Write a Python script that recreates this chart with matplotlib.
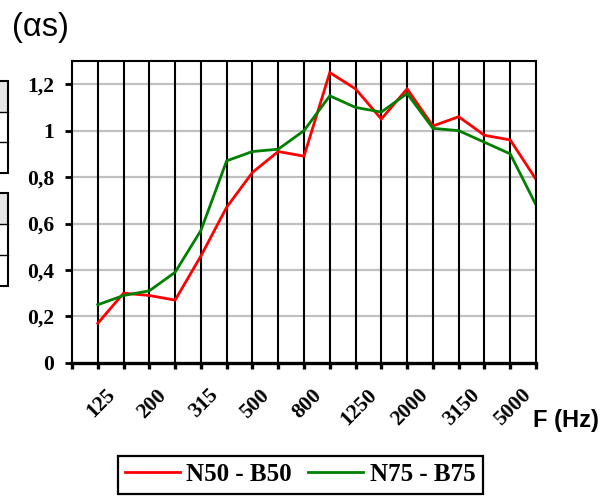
import matplotlib.pyplot as plt
from matplotlib.patches import Rectangle
from matplotlib.lines import Line2D
from matplotlib.ticker import FuncFormatter
from matplotlib.transforms import ScaledTranslation

# third-octave bands (Hz), one value per band
bands = ['125', '160', '200', '250', '315', '400', '500', '630', '800', '1000',
         '1250', '1600', '2000', '2500', '3150', '4000', '5000', '6300']
n50_b50 = [0.17, 0.30, 0.29, 0.27, 0.46, 0.67, 0.82, 0.91, 0.89, 1.25,
           1.18, 1.05, 1.18, 1.02, 1.06, 0.98, 0.96, 0.79]
n75_b75 = [0.25, 0.29, 0.31, 0.39, 0.57, 0.87, 0.91, 0.92, 1.00, 1.15,
           1.10, 1.08, 1.16, 1.01, 1.00, 0.95, 0.90, 0.68]
series_names = ['N50 - B50', 'N75 - B75']
yticks = [0, 0.2, 0.4, 0.6, 0.8, 1.0, 1.2]

W, H = 601, 497
fig = plt.figure(figsize=(W / 100, H / 100), dpi=100)
ax = fig.add_axes([72 / W, 1 - 362.8 / H, (536 - 72) / W, (362.8 - 61) / H])

x = list(range(1, len(bands) + 1))
ax.plot(x, n50_b50, color='#ff0000', lw=2, solid_joinstyle='miter')
ax.plot(x, n75_b75, color='#008000', lw=2, solid_joinstyle='miter')

ax.set_xlim(0, len(bands))
ax.set_ylim(0, 1.3)

# horizontal grey grid
for v in yticks[1:]:
    ax.axhline(v, color='#c0c0c0', lw=1.6, zorder=0)
# vertical black grid at every band
for i in range(1, len(bands)):
    ax.axvline(i, color='black', lw=1.5, zorder=1)

for s in ['left', 'right', 'top']:
    ax.spines[s].set_linewidth(1.5)
ax.spines['bottom'].set_linewidth(2.4)

ax.set_yticks(yticks)
ax.yaxis.set_major_formatter(FuncFormatter(lambda v, p: f"{v:g}".replace('.', ',')))
ax.tick_params(axis='y', length=5, width=2, pad=8)

ticklabels = [''] + [b if i % 2 == 0 else '' for i, b in enumerate(bands)]
ax.set_xticks(range(0, len(bands) + 1))
ax.set_xticklabels(ticklabels, rotation=45, ha='center')
ax.tick_params(axis='x', length=4, width=2.4, pad=12)

for lab in ax.get_xticklabels() + ax.get_yticklabels():
    lab.set_fontfamily('Liberation Serif')
    lab.set_fontweight('bold')
    lab.set_fontsize(15.5)
shift = ScaledTranslation(3 / 100, 0, fig.dpi_scale_trans)
for lab in ax.get_xticklabels():
    lab.set_transform(lab.get_transform() + shift)

fig.text(12 / W, 1 - 36 / H, '(\u03b1s)', fontfamily='Liberation Sans',
         fontsize=23.5, va='baseline', ha='left')
fig.text(533 / W, 1 - 427 / H, 'F (Hz)', fontfamily='Liberation Sans',
         fontweight='bold', fontsize=17, va='baseline', ha='left')

handles = [Line2D([], [], color='#ff0000', lw=2), Line2D([], [], color='#008000', lw=2)]
leg = fig.legend(handles, series_names, loc='upper left',
                 bbox_to_anchor=(117.7 / W, 1 - 455.7 / H), ncol=2,
                 prop={'family': 'Liberation Serif', 'weight': 'bold', 'size': 18},
                 fancybox=False, frameon=True, edgecolor='black', framealpha=1,
                 handlelength=2.2, handletextpad=0.25, columnspacing=0.65,
                 borderpad=0.3, borderaxespad=0)
leg.get_frame().set_linewidth(1.6)

# cropped table fragments at the left edge
def px_rect(x0, y0, x1, y1, **kw):
    fig.add_artist(Rectangle((x0 / W, 1 - y1 / H), (x1 - x0) / W, (y1 - y0) / H,
                             transform=fig.transFigure, **kw))

for top, bot in [(81, 173), (193, 286)]:
    row = (bot - top) / 3
    px_rect(-5, top, 8, top + row, facecolor='#e6e6e6', edgecolor='none')
    px_rect(-5, top, 8, bot, facecolor='none', edgecolor='black', lw=1.5)
    for k in (1, 2):
        fig.add_artist(Line2D([0, 8 / W], [1 - (top + k * row) / H] * 2,
                              transform=fig.transFigure, color='black', lw=1))

fig.savefig('out.png', dpi=100)
